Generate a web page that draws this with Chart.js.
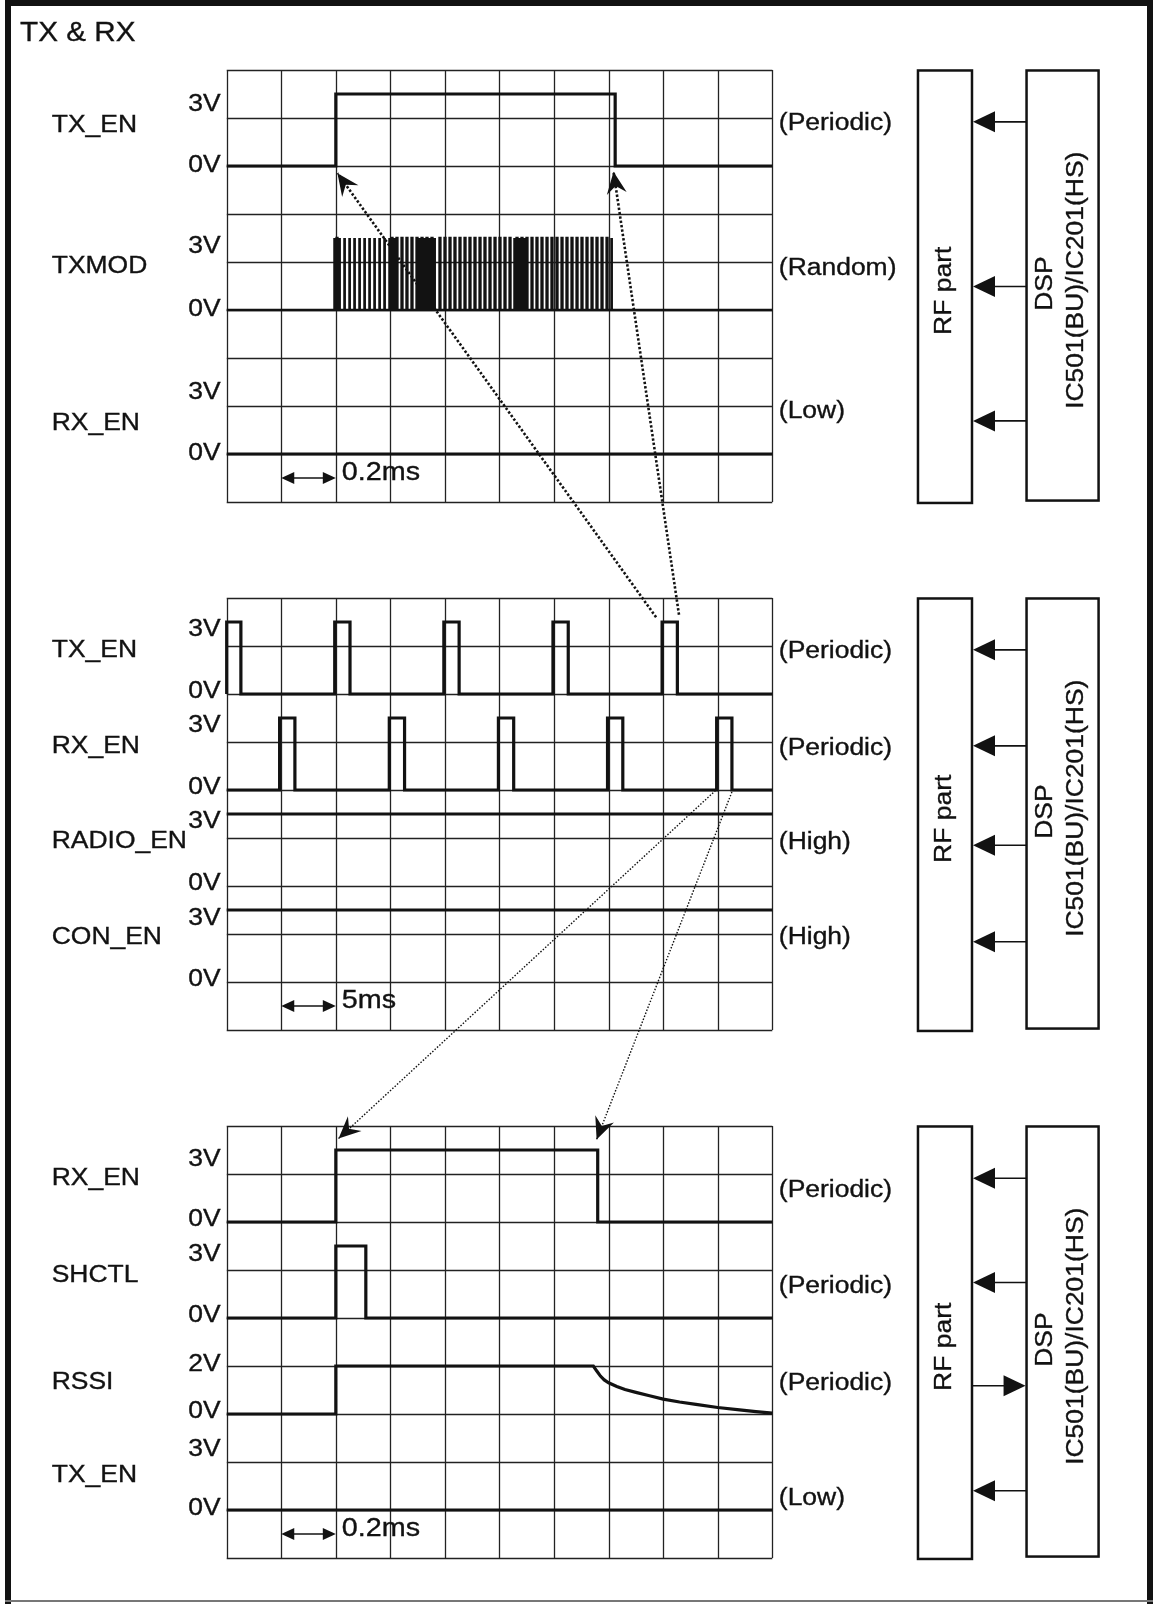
<!DOCTYPE html>
<html><head><meta charset="utf-8">
<script src="https://cdn.jsdelivr.net/npm/chart.js@4.4.0/dist/chart.umd.min.js"></script>
<style>html,body{margin:0;padding:0;background:#fff;}canvas{display:block;}</style>
</head><body>
<canvas id="c" width="1153" height="1604"></canvas>
<script>
// ================= DATA =================
const figureTitle = "TX & RX";
const blockLabels = ["RF part", "DSP", "IC501(BU)/IC201(HS)"];

// Panel 1 (0.2ms / div)
const p1Names  = ["TX_EN", "TXMOD", "RX_EN"];
const p1States = ["(Periodic)", "(Random)", "(Low)"];
const p1Highs  = [3, 3, 3];
const p1Dirs   = ["left", "left", "left"];
const p1Span   = "0.2ms";
const p1TxEnTime = [0, 2.0, 2.0, 7.12, 7.12, 10];
const p1TxEnVolt = [0, 0, 3, 3, 0, 0];
const p1TxModHigh = 3;
// centres of the narrow TXMOD data pulses (time in divisions)
const p1TxModPulses = [1.976, 2.022, 2.067,
  2.159, 2.251, 2.342, 2.434, 2.526, 2.617, 2.709, 2.801, 2.892,
  2.984, 3.030, 3.075, 3.121,
  3.213, 3.304, 3.396, 3.488,
  3.534, 3.580, 3.625, 3.671, 3.717, 3.763, 3.809,
  3.909, 4.001, 4.093, 4.184, 4.276, 4.368, 4.459, 4.551, 4.643, 4.734, 4.826, 4.918, 5.009, 5.101, 5.193,
  5.275, 5.321, 5.367, 5.412, 5.458, 5.504,
  5.596, 5.687, 5.779, 5.871, 5.962, 6.054, 6.146, 6.237, 6.329, 6.421, 6.512, 6.604, 6.696, 6.787, 6.879, 6.971, 7.053];
const p1RxEnTime = [0, 10];
const p1RxEnVolt = [0, 0];

// Panel 2 (5ms / div)
const p2Names  = ["TX_EN", "RX_EN", "RADIO_EN", "CON_EN"];
const p2States = ["(Periodic)", "(Periodic)", "(High)", "(High)"];
const p2Highs  = [3, 3, 3, 3];
const p2Dirs   = ["left", "left", "left", "left"];
const p2Span   = "5ms";
const p2TxEnTime = [0, 0, 0.26, 0.26, 1.98, 1.98, 2.26, 2.26, 3.98, 3.98, 4.26, 4.26,
  5.98, 5.98, 6.26, 6.26, 7.98, 7.98, 8.26, 8.26, 10];
const p2TxEnVolt = [0, 3, 3, 0, 0, 3, 3, 0, 0, 3, 3, 0, 0, 3, 3, 0, 0, 3, 3, 0, 0];
const p2RxEnTime = [0, 0.97, 0.97, 1.25, 1.25, 2.98, 2.98, 3.26, 3.26, 4.98, 4.98, 5.26, 5.26,
  6.98, 6.98, 7.26, 7.26, 8.98, 8.98, 9.26, 9.26, 10];
const p2RxEnVolt = [0, 0, 3, 3, 0, 0, 3, 3, 0, 0, 3, 3, 0, 0, 3, 3, 0, 0, 3, 3, 0, 0];
const p2RadioTime = [0, 10];
const p2RadioVolt = [3, 3];
const p2ConTime = [0, 10];
const p2ConVolt = [3, 3];

// Panel 3 (0.2ms / div)
const p3Names  = ["RX_EN", "SHCTL", "RSSI", "TX_EN"];
const p3States = ["(Periodic)", "(Periodic)", "(Periodic)", "(Low)"];
const p3Highs  = [3, 3, 2, 3];
const p3Dirs   = ["left", "left", "right", "left"];
const p3Span   = "0.2ms";
const p3RxEnTime = [0, 2.0, 2.0, 6.8, 6.8, 10];
const p3RxEnVolt = [0, 0, 3, 3, 0, 0];
const p3ShctlTime = [0, 2.0, 2.0, 2.55, 2.55, 10];
const p3ShctlVolt = [0, 0, 3, 3, 0, 0];
const p3RssiTime = [0, 2.0, 2.0, 6.72, 6.78, 6.85, 6.92, 7.0, 7.15, 7.3, 7.5, 7.75, 8.0, 8.3, 8.6, 9.0, 9.4, 9.7, 10];
const p3RssiVolt = [0, 0, 2, 2, 1.8, 1.58, 1.42, 1.3, 1.15, 1.02, 0.9, 0.76, 0.62, 0.5, 0.4, 0.27, 0.17, 0.1, 0.04];
const p3TxEnTime = [0, 10];
const p3TxEnVolt = [0, 0];

// Dotted connectors [time-div, figure-row]
const connFrom = [[7.87, 11.40], [8.29, 11.35], [8.96, 15.01], [9.26, 15.04]];
const connTo   = [[2.03, 2.15], [7.09, 2.12], [2.05, 22.26], [6.78, 22.28]];

// ================= LAYOUT =================
const PANEL_ROW0 = [0, 11, 22];
const ZERO_ROWS = [[2, 5, 8], [2, 4, 6, 8], [2, 4, 6, 8]];
const NAME_ROWS = [[1.15, 4.1, 7.36], [1.1, 3.1, 5.08, 7.08], [1.09, 3.11, 5.34, 7.29]];
const HIGH_LABEL_ROWS = [[0.72, 3.67, 6.72], [0.66, 2.66, 4.66, 6.67], [0.7, 2.68, 4.98, 6.75]];
const ZERO_LABEL_ROWS = [[2.0, 5.0, 8.0], [1.95, 3.95, 5.95, 7.95], [1.95, 3.95, 5.95, 7.97]];
const STATE_ROWS = [[1.11, 4.13, 7.12], [1.12, 3.13, 5.1, 7.08], [1.35, 3.35, 5.36, 7.76]];
const ARROW_ROWS = [[1.08, 4.51, 7.31], [1.08, 3.08, 5.15, 7.16], [1.09, 3.26, 5.41, 7.6]];
const ROWS_PER_VOLT = 0.5;
const PULSE_HALF = 0.0055;
const INK = '#121212';
const FONT = '"Liberation Sans", Arial, Helvetica, sans-serif';

const panels = [
  {names: p1Names, states: p1States, highs: p1Highs, dirs: p1Dirs, span: p1Span},
  {names: p2Names, states: p2States, highs: p2Highs, dirs: p2Dirs, span: p2Span},
  {names: p3Names, states: p3States, highs: p3Highs, dirs: p3Dirs, span: p3Span}
];

function rowOf(panel, sig, v) { return PANEL_ROW0[panel] + ZERO_ROWS[panel][sig] - ROWS_PER_VOLT * v; }
function series(panel, sig, times, volts) {
  return times.map((t, i) => ({x: t, y: rowOf(panel, sig, volts[i])}));
}
function pulseSeries(panel, sig, centres, high) {
  const lo = rowOf(panel, sig, 0), hi = rowOf(panel, sig, high);
  const pts = [{x: 0, y: lo}];
  centres.forEach(c => {
    pts.push({x: c - PULSE_HALF, y: lo}, {x: c - PULSE_HALF, y: hi},
             {x: c + PULSE_HALF, y: hi}, {x: c + PULSE_HALF, y: lo});
  });
  pts.push({x: 10, y: lo});
  return pts;
}
function sigDs(data, w) {
  return {data, showLine: true, borderColor: INK, borderWidth: w || 3.2, pointRadius: 0,
          borderJoinStyle: 'miter', borderCapStyle: 'butt', tension: 0, fill: false, clip: false};
}

const datasets = [
  sigDs(series(0, 0, p1TxEnTime, p1TxEnVolt)),
  sigDs(pulseSeries(0, 1, p1TxModPulses, p1TxModHigh), 2.7),
  sigDs(series(0, 2, p1RxEnTime, p1RxEnVolt)),
  sigDs(series(1, 0, p2TxEnTime, p2TxEnVolt)),
  sigDs(series(1, 1, p2RxEnTime, p2RxEnVolt)),
  sigDs(series(1, 2, p2RadioTime, p2RadioVolt)),
  sigDs(series(1, 3, p2ConTime, p2ConVolt)),
  sigDs(series(2, 0, p3RxEnTime, p3RxEnVolt)),
  sigDs(series(2, 1, p3ShctlTime, p3ShctlVolt)),
  sigDs(series(2, 2, p3RssiTime, p3RssiVolt)),
  sigDs(series(2, 3, p3TxEnTime, p3TxEnVolt))
];
connFrom.forEach((f, i) => {
  const bold = i < 2;
  datasets.push({data: [{x: f[0], y: f[1]}, {x: connTo[i][0], y: connTo[i][1]}],
    showLine: true, borderColor: INK, borderWidth: bold ? 2.6 : 1.4,
    borderDash: bold ? [2.4, 2.0] : [1.5, 1.7], pointRadius: 0, tension: 0, fill: false, clip: false});
});

function drawText(ctx, s, x, y, size, align, rot, sx) {
  ctx.save();
  ctx.translate(x, y);
  if (rot) ctx.rotate(rot);
  ctx.scale(sx || 1.15, 1);
  ctx.font = size + 'px ' + FONT;
  ctx.textAlign = align; ctx.textBaseline = 'middle'; ctx.fillStyle = INK;
  ctx.strokeStyle = INK; ctx.lineWidth = 0.35;
  ctx.fillText(s, 0, 0);
  ctx.strokeText(s, 0, 0);
  ctx.restore();
}
function arrowHead(ctx, tx, ty, ang, len, half, notch) {
  const dx = Math.cos(ang), dy = Math.sin(ang);
  const px = -dy, py = dx;
  ctx.beginPath();
  ctx.moveTo(tx, ty);
  ctx.lineTo(tx - len * dx + half * px, ty - len * dy + half * py);
  ctx.lineTo(tx - notch * len * dx, ty - notch * len * dy);
  ctx.lineTo(tx - len * dx - half * px, ty - len * dy - half * py);
  ctx.closePath();
  ctx.fill();
}

const figurePlugin = {
  id: 'figure',
  beforeDatasetsDraw(chart) {
    const ctx = chart.ctx, sx = chart.scales.x, sy = chart.scales.y;
    const X = v => sx.getPixelForValue(v), Y = v => sy.getPixelForValue(v);
    ctx.save();
    ctx.fillStyle = '#fff'; ctx.fillRect(0, 0, chart.width, chart.height);
    // frame
    ctx.fillStyle = INK;
    ctx.fillRect(5, 0, 6, 1604);
    ctx.fillRect(5, 0, 1148, 6);
    ctx.fillRect(1147, 0, 6, 1604);
    ctx.fillStyle = '#777'; ctx.fillRect(5, 1600, 1148, 2);
    drawText(ctx, figureTitle, 20, 33, 28, 'left', 0, 1.06);

    panels.forEach((p, pi) => {
      const r0 = PANEL_ROW0[pi];
      // grid
      ctx.strokeStyle = '#222'; ctx.lineWidth = 1.3;
      ctx.beginPath();
      for (let k = 0; k <= 10; k++) {
        const x = Math.round(X(k)) + 0.5;
        ctx.moveTo(x, Y(r0)); ctx.lineTo(x, Y(r0 + 9));
      }
      for (let k = 0; k <= 9; k++) {
        const y = Math.round(Y(r0 + k)) + 0.5;
        ctx.moveTo(X(0), y); ctx.lineTo(X(10), y);
      }
      ctx.stroke();
      // labels
      p.names.forEach((n, i) => {
        drawText(ctx, n, X(-3.207), Y(r0 + NAME_ROWS[pi][i]), 23, 'left');
        drawText(ctx, p.highs[i] + 'V', X(-0.11), Y(r0 + HIGH_LABEL_ROWS[pi][i]), 23, 'right');
        drawText(ctx, '0V', X(-0.11), Y(r0 + ZERO_LABEL_ROWS[pi][i]), 23, 'right');
        drawText(ctx, p.states[i], X(10.12), Y(r0 + STATE_ROWS[pi][i]), 23, 'left');
      });
      // time span indicator
      ctx.fillStyle = INK; ctx.strokeStyle = INK; ctx.lineWidth = 1.6;
      const ya = Y(r0 + 8.5);
      ctx.beginPath(); ctx.moveTo(X(1) + 6, ya); ctx.lineTo(X(2) - 6, ya); ctx.stroke();
      arrowHead(ctx, X(1), ya, Math.PI, 13, 6, 1);
      arrowHead(ctx, X(2), ya, 0, 13, 6, 1);
      drawText(ctx, p.span, X(2) + 6, Y(r0 + 8.4), 25, 'left');
      // blocks
      ctx.lineWidth = 2.5; ctx.strokeStyle = INK; ctx.fillStyle = INK;
      const rfL = X(12.67), rfR = X(13.66), dL = X(14.66), dR = X(15.98);
      ctx.strokeRect(rfL, Y(r0 + 0.01), rfR - rfL, Y(r0 + 9.02) - Y(r0 + 0.01));
      ctx.strokeRect(dL, Y(r0 + 0.01), dR - dL, Y(r0 + 8.97) - Y(r0 + 0.01));
      ctx.lineWidth = 1.6;
      p.dirs.forEach((d, i) => {
        const y = Y(r0 + ARROW_ROWS[pi][i]);
        ctx.beginPath();
        if (d === 'left') { ctx.moveTo(dL, y); ctx.lineTo(rfR + 15, y); }
        else { ctx.moveTo(rfR, y); ctx.lineTo(dL - 15, y); }
        ctx.stroke();
        if (d === 'left') arrowHead(ctx, rfR + 1, y, Math.PI, 22, 10.5, 1);
        else arrowHead(ctx, dL - 1, y, 0, 22, 10.5, 1);
      });
      const cy = Y(r0 + 4.6);
      drawText(ctx, blockLabels[0], (rfL + rfR) / 2, cy, 23, 'center', -Math.PI / 2);
      const dc = (dL + dR) / 2;
      drawText(ctx, blockLabels[1], dc - 16.5, Y(r0 + 4.45), 23, 'center', -Math.PI / 2);
      drawText(ctx, blockLabels[2], dc + 14.5, Y(r0 + 4.38), 23, 'center', -Math.PI / 2);
    });
    ctx.restore();
  },
  afterDatasetsDraw(chart) {
    const ctx = chart.ctx, sx = chart.scales.x, sy = chart.scales.y;
    ctx.save(); ctx.fillStyle = INK;
    connFrom.forEach((f, i) => {
      const x0 = sx.getPixelForValue(f[0]), y0 = sy.getPixelForValue(f[1]);
      const x1 = sx.getPixelForValue(connTo[i][0]), y1 = sy.getPixelForValue(connTo[i][1]);
      arrowHead(ctx, x1, y1, Math.atan2(y1 - y0, x1 - x0), 22, 10, 0.65);
    });
    ctx.restore();
  }
};

new Chart(document.getElementById('c'), {
  type: 'scatter',
  data: {datasets},
  options: {
    responsive: false, animation: false, devicePixelRatio: 1, events: [],
    layout: {padding: 0},
    plugins: {legend: {display: false}, tooltip: {enabled: false}},
    scales: {
      x: {type: 'linear', display: false, min: -226.7 / 54.56, max: (1153 - 226.7) / 54.56},
      y: {type: 'linear', display: false, reverse: true, min: -70 / 48, max: (1604 - 70) / 48}
    }
  },
  plugins: [figurePlugin]
});
</script>
</body></html>
